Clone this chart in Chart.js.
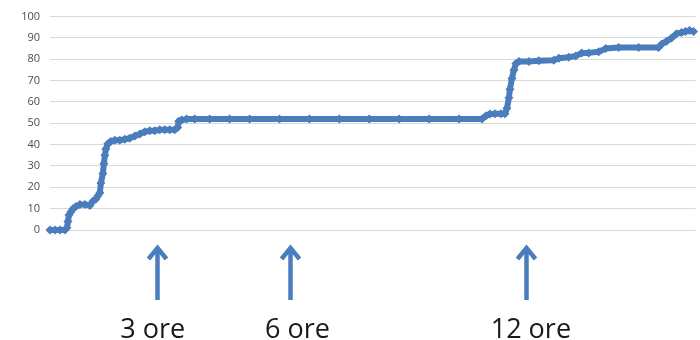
<!DOCTYPE html>
<html>
<head>
<meta charset="utf-8">
<script src="https://cdn.jsdelivr.net/npm/chart.js@4/dist/chart.umd.min.js"></script>
<style>
  html, body { margin: 0; padding: 0; background: #ffffff; }
  #wrap { width: 700px; height: 340px; position: relative; }
</style>
</head>
<body>
<div id="wrap"><canvas id="c"></canvas></div>
<script>
const sampleIndex = [0,5,10,15,17,18,19,21,23,26,30,35,40,43,46,48,50,51,53,54,55,56,58,61,65,70,75,80,85,90,95,100,105,110,115,120,125,128,129,132,137,145,160,180,200,230,260,290,320,350,380,410,433,437,441,446,452,456,458,460,461,463,465,467,470,480,490,505,510,520,527,533,540,550,557,570,590,610,613,618,623,628,633,637,641,645];
const values = [0,0,0,0,1,4,7,8.5,10,11,12,12,11.5,13.5,14.5,16,17.5,22,26.5,31,35,38,40.4,41.5,42,42,42.5,43,44,45,46,46.5,46.5,47,47,47,47,48,51,51.5,52,52,52,52,52,52,52,52,52,52,52,52,52,53.5,54.3,54.5,54.5,54.5,57,62,66,71,75,78,79,79,79.3,79.5,80.5,81,81.5,83,83,83.5,85,85.5,85.5,85.5,87,88.5,90,92,92.5,93,93.5,93];
const yTicks = [0,10,20,30,40,50,60,70,80,90,100];
// Annotations under the chart (time markers)
const markerText = ['3 ore', '6 ore', '12 ore'];
const markerArrowAt = [107, 241, 477];
const markerLabelAt = [103, 248, 482];

const blue = '#4a7dbb';
const points = sampleIndex.map((x, i) => ({ x: x, y: values[i] }));

const markersPlugin = {
  id: 'markers',
  afterDraw(chart) {
    const ctx = chart.ctx;
    const xs = chart.scales.x;
    ctx.save();
    ctx.strokeStyle = blue;
    ctx.lineWidth = 4.5;
    ctx.lineCap = 'butt';
    ctx.lineJoin = 'miter';
    markerArrowAt.forEach(v => {
      const px = Math.round(xs.getPixelForValue(v)) + 0.5;
      ctx.beginPath();
      ctx.moveTo(px, 300);
      ctx.lineTo(px, 248);
      ctx.stroke();
      ctx.beginPath();
      ctx.moveTo(px - 9, 259);
      ctx.lineTo(px, 248);
      ctx.lineTo(px + 9, 259);
      ctx.stroke();
    });
    ctx.fillStyle = '#1a1a1a';
    ctx.font = '27px "Open Sans"';
    ctx.textAlign = 'center';
    ctx.textBaseline = 'alphabetic';
    markerText.forEach((t, i) => {
      ctx.fillText(t, xs.getPixelForValue(markerLabelAt[i]), 338);
    });
    ctx.restore();
  }
};

new Chart(document.getElementById('c'), {
  type: 'scatter',
  data: {
    datasets: [{
      data: points,
      showLine: true,
      borderColor: blue,
      backgroundColor: blue,
      borderWidth: 6,
      borderJoinStyle: 'round',
      borderCapStyle: 'round',
      pointStyle: 'rectRot',
      pointRadius: 4.5,
      pointBorderWidth: 0,
      pointHoverRadius: 4.5,
      clip: false
    }]
  },
  options: {
    responsive: true,
    maintainAspectRatio: false,
    animation: false,
    events: [],
    layout: { padding: { top: 15, bottom: 110, left: 0, right: 3 } },
    plugins: { legend: { display: false }, tooltip: { enabled: false } },
    scales: {
      x: { type: 'linear', min: 0, max: 647, display: false },
      y: {
        min: 0, max: 100,
        afterBuildTicks(scale) { scale.ticks = yTicks.map(v => ({ value: v })); },
        afterFit(scale) { scale.width = 50; },
        border: { display: false },
        grid: { color: '#d9d9d9', lineWidth: 1, drawTicks: false },
        ticks: {
          padding: 10,
          color: '#4d4d4d',
          font: { family: '"Open Sans"', size: 11 }
        }
      }
    }
  },
  plugins: [markersPlugin]
});
</script>
</body>
</html>
